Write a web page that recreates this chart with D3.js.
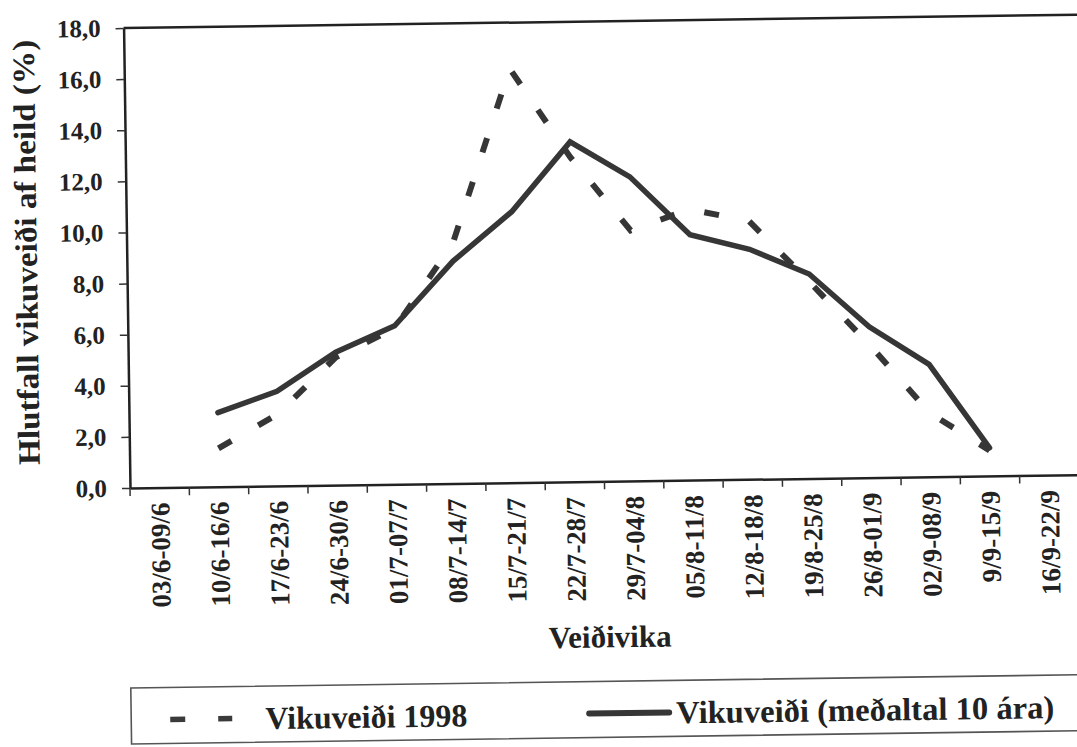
<!DOCTYPE html>
<html>
<head>
<meta charset="utf-8">
<script src="https://cdn.jsdelivr.net/npm/d3@7"></script>
<style>
  html, body { margin: 0; padding: 0; background: #fff; }
  svg { display: block; }
</style>
</head>
<body>
<script>
// ---- data ----
const categories = ["03/6-09/6","10/6-16/6","17/6-23/6","24/6-30/6","01/7-07/7","08/7-14/7",
  "15/7-21/7","22/7-28/7","29/7-04/8","05/8-11/8","12/8-18/8","19/8-25/8","26/8-01/9",
  "02/9-08/9","9/9-15/9","16/9-22/9"];
const vikuveidi1998 = [null,1.5,2.8,5.0,6.1,9.4,16.2,12.7,9.8,10.6,10.1,7.7,5.2,2.5,1.0,null];
const medaltal10ara = [null,2.9,3.7,5.2,6.2,8.7,10.6,13.3,11.9,9.6,9.0,8.0,5.9,4.4,1.1,null];
const yTicks = [0,2,4,6,8,10,12,14,16,18];
const seriesNames = ["Vikuveiði 1998", "Vikuveiði (meðaltal 10 ára)"];
const yTitle = "Hlutfall vikuveiði af heild (%)";
const xTitle = "Veiðivika";

const W = 1077, H = 747;
const FONT = "Liberation Serif";
const INK = "#222";
const fmt = d => d.toFixed(1).replace(".", ",");

const svg = d3.select("body").append("svg").attr("width", W).attr("height", H);
svg.append("rect").attr("width", W).attr("height", H).attr("fill", "#fff");

// scanned page is slightly tilted
const g = svg.append("g").attr("transform", "rotate(-0.8 128 488)");

const x = d3.scaleBand().domain(categories).range([130, 1079]);
const y = d3.scaleLinear().domain([0, 18]).range([488, 28]);
const cx = c => x(c) + x.bandwidth() / 2;

// plot top border
g.append("line").attr("x1", 130).attr("x2", 1090).attr("y1", y(18)).attr("y2", y(18))
  .attr("stroke", INK).attr("stroke-width", 2.5);

// y axis
const ya = g.append("g").attr("transform", "translate(130,0)")
  .call(d3.axisLeft(y).tickValues(yTicks).tickSize(8).tickSizeOuter(0).tickPadding(15).tickFormat(fmt));
ya.attr("font-family", FONT).attr("font-size", 25).attr("font-weight", "bold");
ya.select(".domain").attr("stroke", INK).attr("stroke-width", 2.5);
ya.selectAll(".tick line").attr("stroke", "#333").attr("stroke-width", 1.5);
ya.selectAll(".tick text").attr("fill", INK);

// x axis
const xa = g.append("g").attr("transform", "translate(0,488)")
  .call(d3.axisBottom(x).tickSize(0).tickSizeOuter(0));
xa.attr("font-family", FONT).attr("font-size", 27).attr("font-weight", "bold");
xa.select(".domain").attr("stroke", INK).attr("stroke-width", 2.5);
xa.selectAll(".tick text")
  .attr("transform", "rotate(-90)")
  .attr("x", -15).attr("y", 0).attr("dy", "0.35em")
  .attr("text-anchor", "end").attr("fill", INK);
const bounds = categories.map(c => x(c)).concat([x.range()[1]]);
g.selectAll("line.xtick").data(bounds).join("line").attr("class", "xtick")
  .attr("x1", d => d).attr("x2", d => d).attr("y1", 488).attr("y2", 496)
  .attr("stroke", "#333").attr("stroke-width", 1.5);

// axis titles
g.append("text").attr("transform", "translate(40,251) rotate(-90)")
  .attr("text-anchor", "middle").attr("font-family", FONT).attr("font-size", 31)
  .attr("font-weight", "bold").attr("fill", INK)
  .attr("textLength", 425).attr("lengthAdjust", "spacingAndGlyphs").text(yTitle);
g.append("text").attr("x", 608).attr("y", 654).attr("text-anchor", "middle")
  .attr("font-family", FONT).attr("font-size", 31).attr("font-weight", "bold")
  .attr("fill", INK).text(xTitle);

// lines
const line = d3.line().defined(d => d.v != null).x(d => cx(d.c)).y(d => y(d.v));
const d98 = categories.map((c, i) => ({c, v: vikuveidi1998[i]}));
const dAvg = categories.map((c, i) => ({c, v: medaltal10ara[i]}));

g.append("path").attr("d", line(dAvg)).attr("fill", "none")
  .attr("stroke", "#363636").attr("stroke-width", 5.5)
  .attr("stroke-linecap", "round").attr("stroke-linejoin", "miter");
g.append("path").attr("d", line(d98)).attr("fill", "none")
  .attr("stroke", "#363636").attr("stroke-width", 6)
  .attr("stroke-dasharray", "15,31").attr("stroke-linecap", "butt");

// legend
const lg = g.append("g").attr("font-family", FONT).attr("font-weight", "bold").attr("font-size", 32);
lg.append("rect").attr("x", 128).attr("y", 688).attr("width", 1000).attr("height", 56)
  .attr("fill", "#fff").attr("stroke", "#555").attr("stroke-width", 1.6);
lg.append("line").attr("x1", 167).attr("x2", 229).attr("y1", 720).attr("y2", 720)
  .attr("stroke", "#3a3a3a").attr("stroke-width", 5.5).attr("stroke-dasharray", "15,33");
lg.append("text").attr("x", 262).attr("y", 731).attr("fill", INK)
  .attr("textLength", 202).attr("lengthAdjust", "spacingAndGlyphs").text(seriesNames[0]);
lg.append("line").attr("x1", 586).attr("x2", 666).attr("y1", 720).attr("y2", 720)
  .attr("stroke", "#363636").attr("stroke-width", 6).attr("stroke-linecap", "round");
lg.append("text").attr("x", 673).attr("y", 731).attr("fill", INK)
  .attr("textLength", 378).attr("lengthAdjust", "spacingAndGlyphs").text(seriesNames[1]);
</script>
</body>
</html>
